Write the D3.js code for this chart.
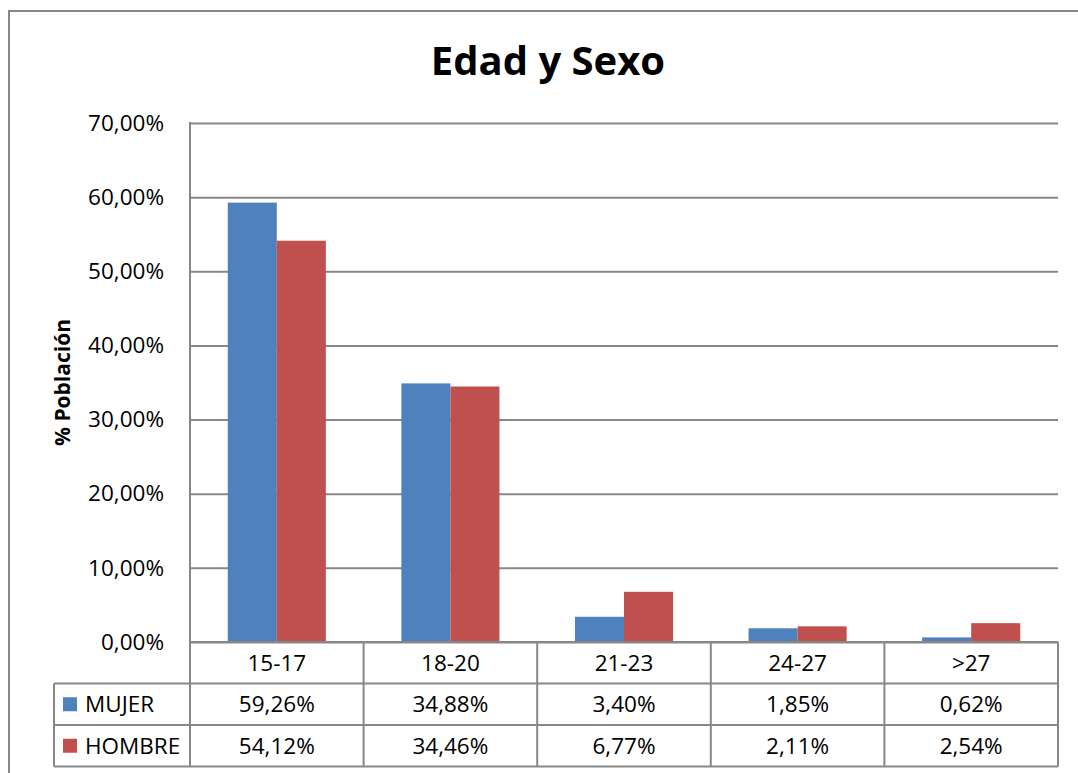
<!DOCTYPE html>
<html>
<head>
<meta charset="utf-8">
<script src="https://cdn.jsdelivr.net/npm/d3@7"></script>
<style>
  body { margin: 0; background: #fff; }
  text { font-family: "Open Sans", sans-serif; fill: #000; }
</style>
</head>
<body>
<div class="chart-container"></div>
<script>
"use strict";

// Data
const categories = ["15-17", "18-20", "21-23", "24-27", ">27"];
const seriesNames = ["MUJER", "HOMBRE"];
const mujer = [59.26, 34.88, 3.40, 1.85, 0.62];
const hombre = [54.12, 34.46, 6.77, 2.11, 2.54];
const yTicks = [0, 10, 20, 30, 40, 50, 60, 70];

const colors = {MUJER: "#4F81BD", HOMBRE: "#C0504D"};
const gridColor = "#878787";

const seriesValues = {MUJER: mujer, HOMBRE: hombre};
const fmt = v => v.toFixed(2).replace(".", ",") + "%";

// Layout
const W = 1078, H = 773;
const plot = {left: 190, right: 1058, top: 123, bottom: 642};
const rowH = 41.5;
const legendLeft = 54;

const svg = d3.select(".chart-container")
  .append("svg")
  .attr("width", W)
  .attr("height", H);

// outer chart border (runs off the right and bottom edges)
svg.append("rect")
  .attr("x", 9).attr("y", 11)
  .attr("width", 1200).attr("height", 900)
  .attr("fill", "none")
  .attr("stroke", gridColor)
  .attr("stroke-width", 2);

// Scales
const x = d3.scaleBand()
  .domain(categories)
  .range([plot.left, plot.right]);

const xInner = d3.scaleBand()
  .domain(seriesNames)
  .range([0, x.bandwidth()])
  .paddingInner(0)
  .paddingOuter(0.77);

const y = d3.scaleLinear()
  .domain([0, 70])
  .range([plot.bottom, plot.top]);

// Title
svg.append("text")
  .attr("x", 548).attr("y", 75)
  .attr("text-anchor", "middle")
  .style("font-size", "40px")
  .style("font-weight", "bold")
  .text("Edad y Sexo");

// Y axis with gridlines
const yAxis = svg.append("g")
  .attr("transform", `translate(${plot.left},0)`)
  .call(d3.axisLeft(y)
    .tickValues(yTicks)
    .tickFormat(d => fmt(d))
    .tickSize(-(plot.right - plot.left))
    .tickPadding(26));

yAxis.select(".domain").remove();
yAxis.selectAll(".tick line")
  .attr("stroke", gridColor)
  .attr("stroke-width", 2);
yAxis.selectAll(".tick text")
  .style("font-size", "22.5px")
  .style("font-family", "'Open Sans', sans-serif");

// vertical axis line
svg.append("line")
  .attr("x1", plot.left).attr("x2", plot.left)
  .attr("y1", plot.top - 1).attr("y2", plot.bottom)
  .attr("stroke", gridColor)
  .attr("stroke-width", 2);

// Y axis title
svg.append("text")
  .attr("transform", `translate(70, ${(plot.top + plot.bottom) / 2}) rotate(-90)`)
  .attr("text-anchor", "middle")
  .style("font-size", "21px")
  .style("font-weight", "bold")
  .text("% Población");

// Bars
seriesNames.forEach(name => {
  svg.selectAll(".bar-" + name)
    .data(seriesValues[name])
    .enter()
    .append("rect")
    .attr("class", "bar-" + name)
    .attr("x", (d, i) => x(categories[i]) + xInner(name))
    .attr("y", d => y(d))
    .attr("width", xInner.bandwidth())
    .attr("height", d => y(0) - y(d))
    .attr("fill", colors[name]);
});

// redraw baseline over bars
svg.append("line")
  .attr("x1", plot.left).attr("x2", plot.right)
  .attr("y1", y(0)).attr("y2", y(0))
  .attr("stroke", gridColor)
  .attr("stroke-width", 2);

// Data table
const tableTop = plot.bottom;
const table = svg.append("g").attr("class", "data-table");

// horizontal lines
[1, 2, 3].forEach(r => {
  table.append("line")
    .attr("x1", legendLeft).attr("x2", plot.right)
    .attr("y1", tableTop + r * rowH).attr("y2", tableTop + r * rowH)
    .attr("stroke", gridColor).attr("stroke-width", 2);
});

// vertical lines
const colEdges = categories.map(c => x(c)).concat([plot.right]);
table.selectAll(".vline")
  .data(colEdges)
  .enter()
  .append("line")
  .attr("x1", d => d).attr("x2", d => d)
  .attr("y1", tableTop).attr("y2", tableTop + 3 * rowH)
  .attr("stroke", gridColor).attr("stroke-width", 2);

table.append("line")
  .attr("x1", legendLeft).attr("x2", legendLeft)
  .attr("y1", tableTop + rowH).attr("y2", tableTop + 3 * rowH)
  .attr("stroke", gridColor).attr("stroke-width", 2);

// category labels
table.selectAll(".cat")
  .data(categories)
  .enter()
  .append("text")
  .attr("x", d => x(d) + x.bandwidth() / 2)
  .attr("y", tableTop + rowH / 2)
  .attr("dy", "0.36em")
  .attr("text-anchor", "middle")
  .style("font-size", "22.5px")
  .text(d => d);

// series rows
seriesNames.forEach((name, r) => {
  const rowY = tableTop + (r + 1) * rowH;
  table.append("rect")
    .attr("x", 63).attr("y", rowY + rowH / 2 - 7)
    .attr("width", 14).attr("height", 14)
    .attr("fill", colors[name]);
  table.append("text")
    .attr("x", 85).attr("y", rowY + rowH / 2)
    .attr("dy", "0.36em")
    .style("font-size", "22.5px")
    .text(name);
  table.selectAll(".val-" + name)
    .data(seriesValues[name])
    .enter()
    .append("text")
    .attr("x", (d, i) => x(categories[i]) + x.bandwidth() / 2)
    .attr("y", rowY + rowH / 2)
    .attr("dy", "0.36em")
    .attr("text-anchor", "middle")
    .style("font-size", "22.5px")
    .text(d => fmt(d));
});
</script>
</body>
</html>
